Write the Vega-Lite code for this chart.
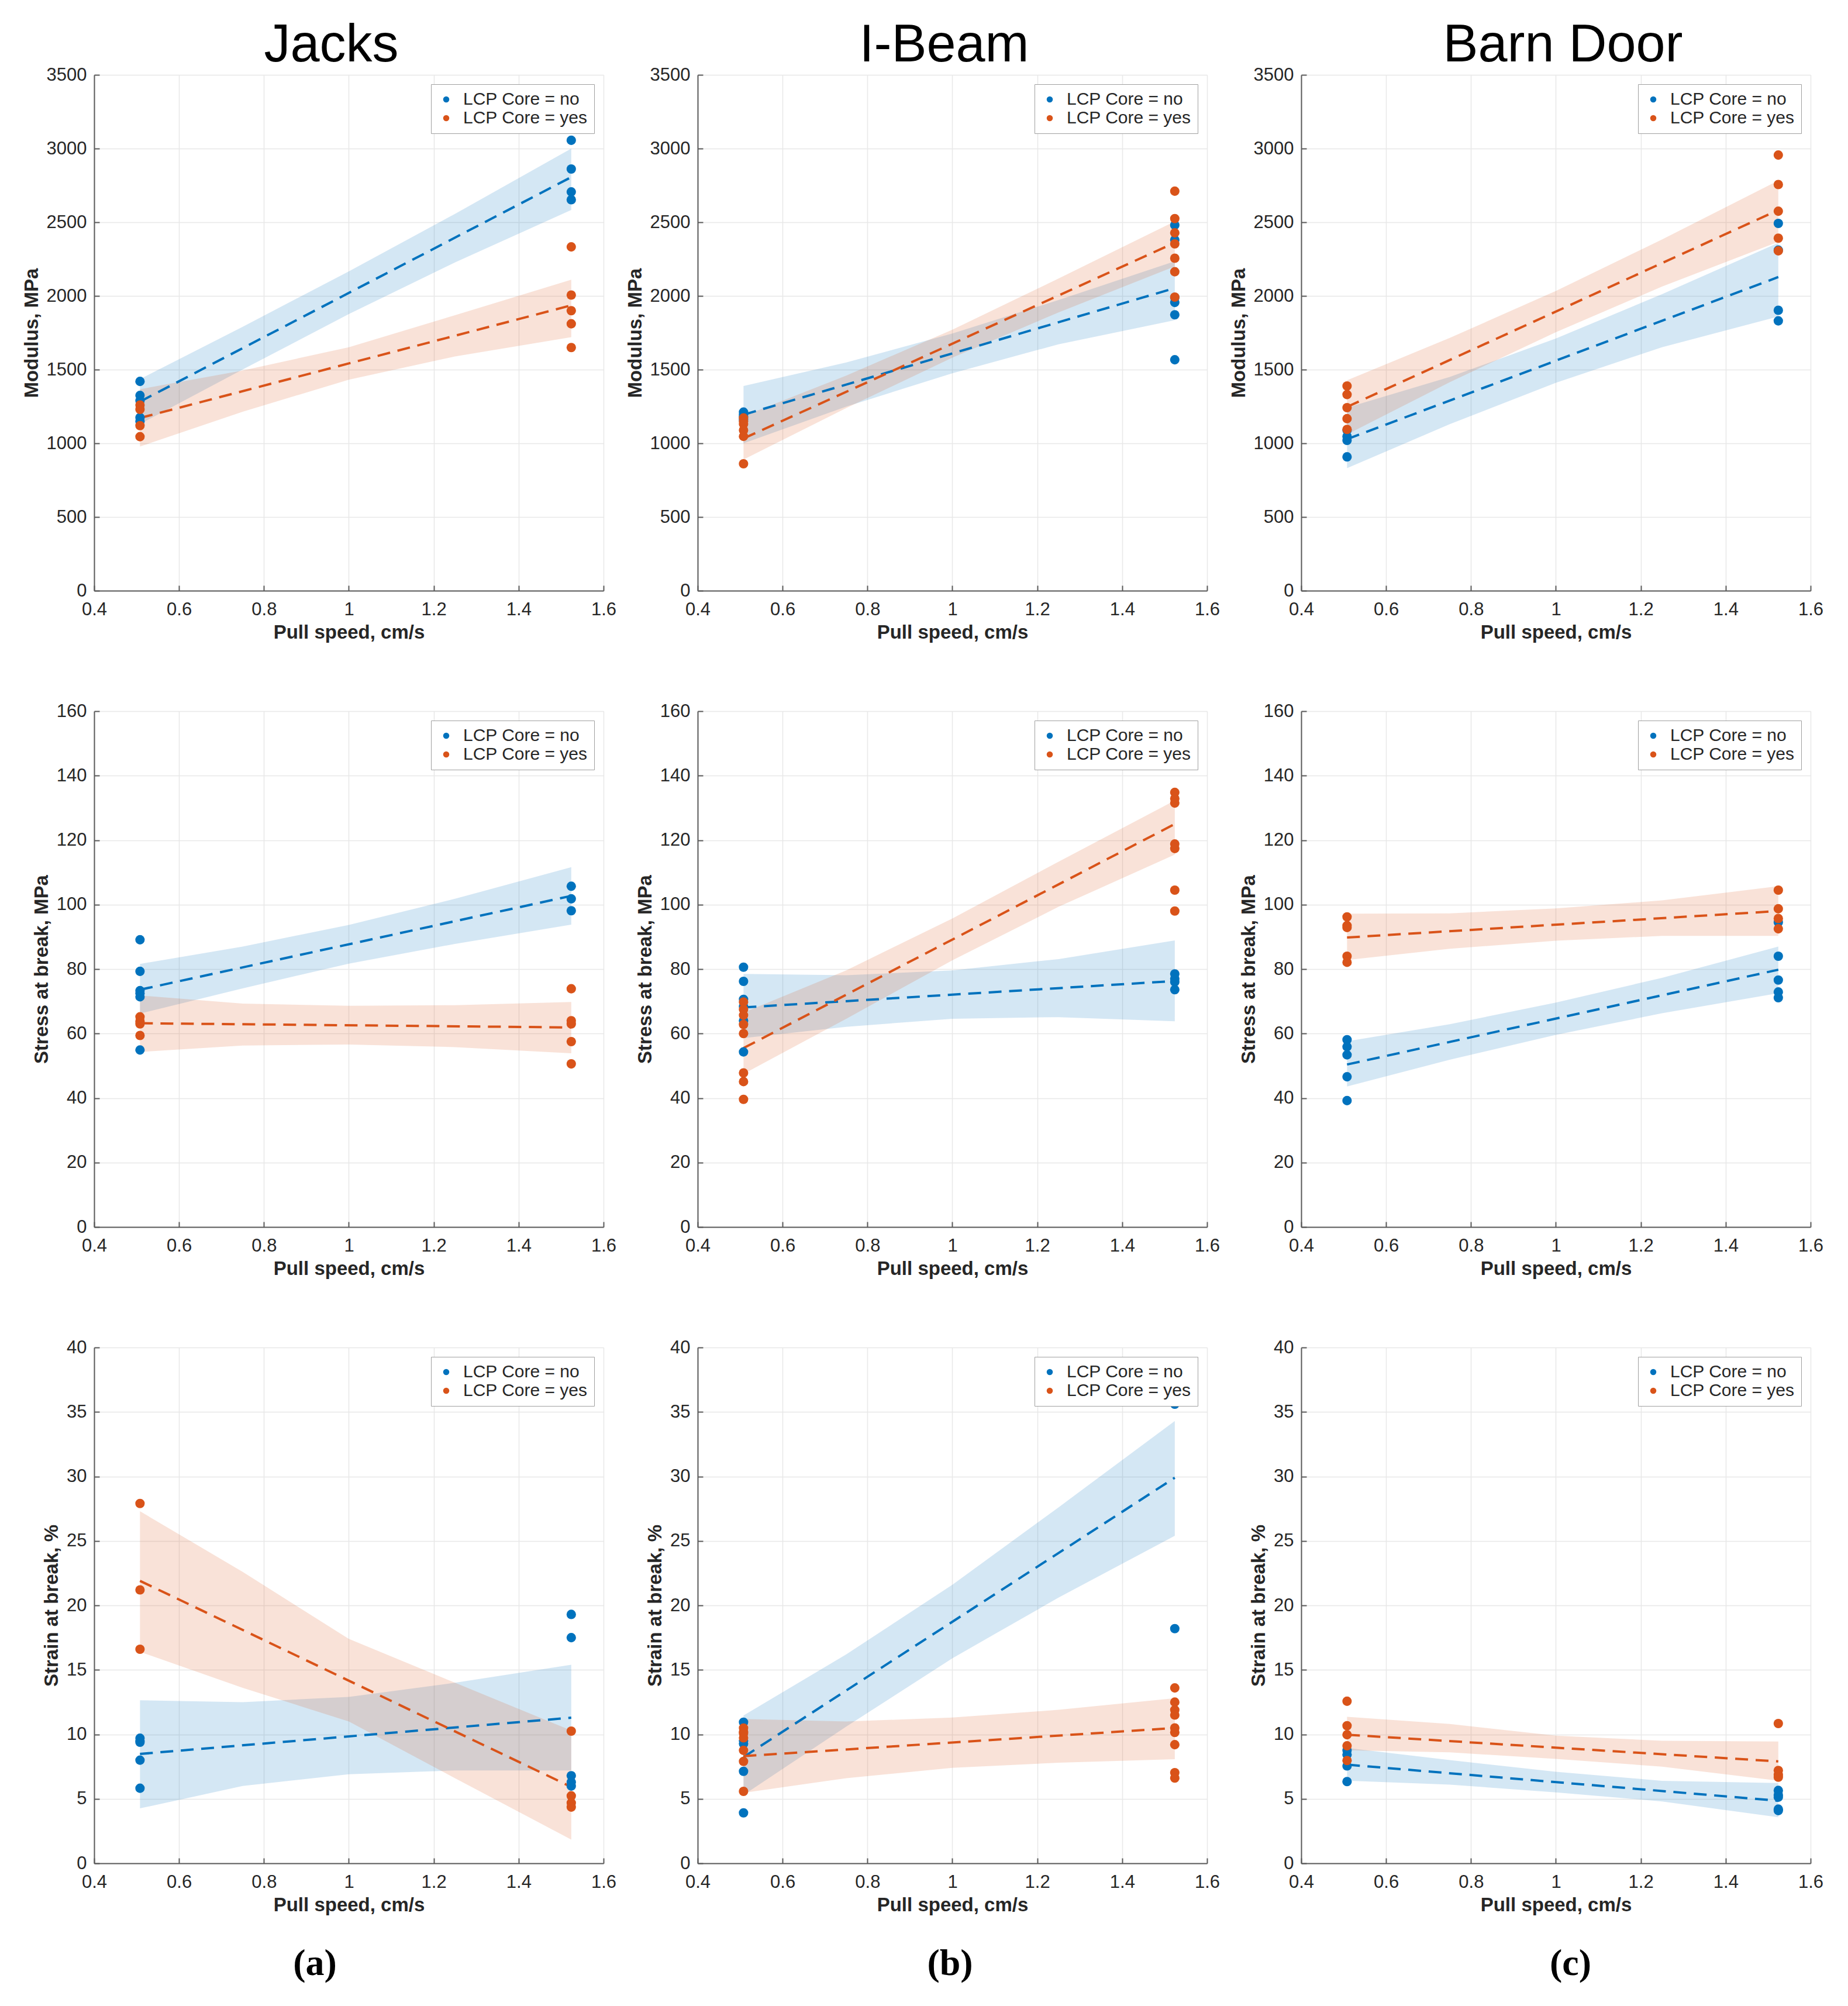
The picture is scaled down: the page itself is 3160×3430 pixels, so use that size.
{
"$schema": "https://vega.github.io/schema/vega-lite/v6.json",
"background": "white",
"padding": {"top": 33, "left": 38, "right": 5, "bottom": 5},
"datasets": {
"pts": [
{"p":"Jm","s":"no","x":0.508,"y":1420},{"p":"Jm","s":"no","x":0.508,"y":1325},{"p":"Jm","s":"no","x":0.508,"y":1290},{"p":"Jm","s":"no","x":0.508,"y":1175},{"p":"Jm","s":"no","x":0.508,"y":1150},
{"p":"Jm","s":"no","x":1.524,"y":3056},{"p":"Jm","s":"no","x":1.524,"y":2861},{"p":"Jm","s":"no","x":1.524,"y":2706},{"p":"Jm","s":"no","x":1.524,"y":2653},
{"p":"Jm","s":"yes","x":0.508,"y":1260},{"p":"Jm","s":"yes","x":0.508,"y":1230},{"p":"Jm","s":"yes","x":0.508,"y":1120},{"p":"Jm","s":"yes","x":0.508,"y":1045},
{"p":"Jm","s":"yes","x":1.524,"y":2333},{"p":"Jm","s":"yes","x":1.524,"y":2006},{"p":"Jm","s":"yes","x":1.524,"y":1900},{"p":"Jm","s":"yes","x":1.524,"y":1811},{"p":"Jm","s":"yes","x":1.524,"y":1650},
{"p":"Bm","s":"no","x":0.508,"y":1212},{"p":"Bm","s":"no","x":0.508,"y":1195},{"p":"Bm","s":"no","x":0.508,"y":1180},{"p":"Bm","s":"no","x":0.508,"y":1160},
{"p":"Bm","s":"no","x":1.524,"y":2480},{"p":"Bm","s":"no","x":1.524,"y":2380},{"p":"Bm","s":"no","x":1.524,"y":1990},{"p":"Bm","s":"no","x":1.524,"y":1956},{"p":"Bm","s":"no","x":1.524,"y":1872},{"p":"Bm","s":"no","x":1.524,"y":1567},
{"p":"Bm","s":"yes","x":0.508,"y":1172},{"p":"Bm","s":"yes","x":0.508,"y":1150},{"p":"Bm","s":"yes","x":0.508,"y":1131},{"p":"Bm","s":"yes","x":0.508,"y":1089},{"p":"Bm","s":"yes","x":0.508,"y":1047},{"p":"Bm","s":"yes","x":0.508,"y":861},
{"p":"Bm","s":"yes","x":1.524,"y":2711},{"p":"Bm","s":"yes","x":1.524,"y":2525},{"p":"Bm","s":"yes","x":1.524,"y":2428},{"p":"Bm","s":"yes","x":1.524,"y":2353},{"p":"Bm","s":"yes","x":1.524,"y":2256},{"p":"Bm","s":"yes","x":1.524,"y":2164},{"p":"Bm","s":"yes","x":1.524,"y":1992},
{"p":"Dm","s":"no","x":0.508,"y":1089},{"p":"Dm","s":"no","x":0.508,"y":1047},{"p":"Dm","s":"no","x":0.508,"y":1020},{"p":"Dm","s":"no","x":0.508,"y":908},
{"p":"Dm","s":"no","x":1.524,"y":2492},{"p":"Dm","s":"no","x":1.524,"y":2311},{"p":"Dm","s":"no","x":1.524,"y":1903},{"p":"Dm","s":"no","x":1.524,"y":1831},
{"p":"Dm","s":"yes","x":0.508,"y":1389},{"p":"Dm","s":"yes","x":0.508,"y":1331},{"p":"Dm","s":"yes","x":0.508,"y":1242},{"p":"Dm","s":"yes","x":0.508,"y":1167},{"p":"Dm","s":"yes","x":0.508,"y":1094},
{"p":"Dm","s":"yes","x":1.524,"y":2956},{"p":"Dm","s":"yes","x":1.524,"y":2756},{"p":"Dm","s":"yes","x":1.524,"y":2575},{"p":"Dm","s":"yes","x":1.524,"y":2392},{"p":"Dm","s":"yes","x":1.524,"y":2306},
{"p":"Js","s":"no","x":0.508,"y":89.1},{"p":"Js","s":"no","x":0.508,"y":79.3},{"p":"Js","s":"no","x":0.508,"y":73.3},{"p":"Js","s":"no","x":0.508,"y":72.5},{"p":"Js","s":"no","x":0.508,"y":71.4},{"p":"Js","s":"no","x":0.508,"y":54.9},
{"p":"Js","s":"no","x":1.524,"y":105.7},{"p":"Js","s":"no","x":1.524,"y":101.8},{"p":"Js","s":"no","x":1.524,"y":98.1},
{"p":"Js","s":"yes","x":0.508,"y":65.2},{"p":"Js","s":"yes","x":0.508,"y":63.8},{"p":"Js","s":"yes","x":0.508,"y":63.0},{"p":"Js","s":"yes","x":0.508,"y":59.4},
{"p":"Js","s":"yes","x":1.524,"y":73.9},{"p":"Js","s":"yes","x":1.524,"y":64.0},{"p":"Js","s":"yes","x":1.524,"y":63.0},{"p":"Js","s":"yes","x":1.524,"y":57.5},{"p":"Js","s":"yes","x":1.524,"y":50.6},
{"p":"Bs","s":"no","x":0.508,"y":80.6},{"p":"Bs","s":"no","x":0.508,"y":76.2},{"p":"Bs","s":"no","x":0.508,"y":70.6},{"p":"Bs","s":"no","x":0.508,"y":68.4},{"p":"Bs","s":"no","x":0.508,"y":64.0},{"p":"Bs","s":"no","x":0.508,"y":54.3},
{"p":"Bs","s":"no","x":1.524,"y":78.5},{"p":"Bs","s":"no","x":1.524,"y":77.0},{"p":"Bs","s":"no","x":1.524,"y":76.0},{"p":"Bs","s":"no","x":1.524,"y":73.6},
{"p":"Bs","s":"yes","x":0.508,"y":69.8},{"p":"Bs","s":"yes","x":0.508,"y":67.5},{"p":"Bs","s":"yes","x":0.508,"y":65.7},{"p":"Bs","s":"yes","x":0.508,"y":62.8},{"p":"Bs","s":"yes","x":0.508,"y":60.0},{"p":"Bs","s":"yes","x":0.508,"y":47.8},{"p":"Bs","s":"yes","x":0.508,"y":45.1},{"p":"Bs","s":"yes","x":0.508,"y":39.6},
{"p":"Bs","s":"yes","x":1.524,"y":134.8},{"p":"Bs","s":"yes","x":1.524,"y":132.9},{"p":"Bs","s":"yes","x":1.524,"y":131.5},{"p":"Bs","s":"yes","x":1.524,"y":118.8},{"p":"Bs","s":"yes","x":1.524,"y":117.4},{"p":"Bs","s":"yes","x":1.524,"y":104.5},{"p":"Bs","s":"yes","x":1.524,"y":98.0},
{"p":"Ds","s":"no","x":0.508,"y":58.1},{"p":"Ds","s":"no","x":0.508,"y":55.9},{"p":"Ds","s":"no","x":0.508,"y":53.4},{"p":"Ds","s":"no","x":0.508,"y":46.6},{"p":"Ds","s":"no","x":0.508,"y":39.2},
{"p":"Ds","s":"no","x":1.524,"y":94.5},{"p":"Ds","s":"no","x":1.524,"y":84.0},{"p":"Ds","s":"no","x":1.524,"y":76.6},{"p":"Ds","s":"no","x":1.524,"y":72.9},{"p":"Ds","s":"no","x":1.524,"y":71.1},
{"p":"Ds","s":"yes","x":0.508,"y":96.2},{"p":"Ds","s":"yes","x":0.508,"y":93.5},{"p":"Ds","s":"yes","x":0.508,"y":92.9},{"p":"Ds","s":"yes","x":0.508,"y":84.0},{"p":"Ds","s":"yes","x":0.508,"y":82.1},
{"p":"Ds","s":"yes","x":1.524,"y":104.5},{"p":"Ds","s":"yes","x":1.524,"y":98.7},{"p":"Ds","s":"yes","x":1.524,"y":95.7},{"p":"Ds","s":"yes","x":1.524,"y":92.5},
{"p":"Je","s":"no","x":0.508,"y":9.7},{"p":"Je","s":"no","x":0.508,"y":9.5},{"p":"Je","s":"no","x":0.508,"y":9.39},{"p":"Je","s":"no","x":0.508,"y":8.0},{"p":"Je","s":"no","x":0.508,"y":5.82},
{"p":"Je","s":"no","x":1.524,"y":19.3},{"p":"Je","s":"no","x":1.524,"y":17.5},{"p":"Je","s":"no","x":1.524,"y":6.79},{"p":"Je","s":"no","x":1.524,"y":6.3},{"p":"Je","s":"no","x":1.524,"y":5.99},
{"p":"Je","s":"yes","x":0.508,"y":27.9},{"p":"Je","s":"yes","x":0.508,"y":21.2},{"p":"Je","s":"yes","x":0.508,"y":16.6},
{"p":"Je","s":"yes","x":1.524,"y":10.25},{"p":"Je","s":"yes","x":1.524,"y":5.23},{"p":"Je","s":"yes","x":1.524,"y":4.68},{"p":"Je","s":"yes","x":1.524,"y":4.36},
{"p":"Be","s":"no","x":0.508,"y":10.94},{"p":"Be","s":"no","x":0.508,"y":9.5},{"p":"Be","s":"no","x":0.508,"y":9.28},{"p":"Be","s":"no","x":0.508,"y":7.13},{"p":"Be","s":"no","x":0.508,"y":3.91},
{"p":"Be","s":"no","x":1.524,"y":37.5},{"p":"Be","s":"no","x":1.524,"y":35.6},{"p":"Be","s":"no","x":1.524,"y":18.2},
{"p":"Be","s":"yes","x":0.508,"y":10.49},{"p":"Be","s":"yes","x":0.508,"y":10.2},{"p":"Be","s":"yes","x":0.508,"y":10.08},{"p":"Be","s":"yes","x":0.508,"y":9.73},{"p":"Be","s":"yes","x":0.508,"y":8.76},{"p":"Be","s":"yes","x":0.508,"y":7.9},{"p":"Be","s":"yes","x":0.508,"y":5.58},
{"p":"Be","s":"yes","x":1.524,"y":13.6},{"p":"Be","s":"yes","x":1.524,"y":12.5},{"p":"Be","s":"yes","x":1.524,"y":11.9},{"p":"Be","s":"yes","x":1.524,"y":11.5},{"p":"Be","s":"yes","x":1.524,"y":10.5},{"p":"Be","s":"yes","x":1.524,"y":10.15},{"p":"Be","s":"yes","x":1.524,"y":9.2},{"p":"Be","s":"yes","x":1.524,"y":7.03},{"p":"Be","s":"yes","x":1.524,"y":6.61},
{"p":"De","s":"no","x":0.508,"y":8.76},{"p":"De","s":"no","x":0.508,"y":8.42},{"p":"De","s":"no","x":0.508,"y":7.55},{"p":"De","s":"no","x":0.508,"y":6.34},
{"p":"De","s":"no","x":1.524,"y":5.65},{"p":"De","s":"no","x":1.524,"y":5.3},{"p":"De","s":"no","x":1.524,"y":5.13},{"p":"De","s":"no","x":1.524,"y":4.2},{"p":"De","s":"no","x":1.524,"y":4.09},
{"p":"De","s":"yes","x":0.508,"y":12.57},{"p":"De","s":"yes","x":0.508,"y":10.67},{"p":"De","s":"yes","x":0.508,"y":9.97},{"p":"De","s":"yes","x":0.508,"y":9.11},{"p":"De","s":"yes","x":0.508,"y":7.97},
{"p":"De","s":"yes","x":1.524,"y":10.84},{"p":"De","s":"yes","x":1.524,"y":7.2},{"p":"De","s":"yes","x":1.524,"y":6.86},{"p":"De","s":"yes","x":1.524,"y":6.68}
],
"fit": [
{"p":"Jm","s":"no","x":0.508,"y":1283},{"p":"Jm","s":"no","x":1.524,"y":2806},{"p":"Jm","s":"yes","x":0.508,"y":1172},{"p":"Jm","s":"yes","x":1.524,"y":1936},
{"p":"Bm","s":"no","x":0.508,"y":1194},{"p":"Bm","s":"no","x":1.524,"y":2053},{"p":"Bm","s":"yes","x":0.508,"y":1033},{"p":"Bm","s":"yes","x":1.524,"y":2361},
{"p":"Dm","s":"no","x":0.508,"y":1028},{"p":"Dm","s":"no","x":1.524,"y":2128},{"p":"Dm","s":"yes","x":0.508,"y":1247},{"p":"Dm","s":"yes","x":1.524,"y":2583},
{"p":"Js","s":"no","x":0.508,"y":73.6},{"p":"Js","s":"no","x":1.524,"y":102.7},{"p":"Js","s":"yes","x":0.508,"y":63.2},{"p":"Js","s":"yes","x":1.524,"y":61.9},
{"p":"Bs","s":"no","x":0.508,"y":68.1},{"p":"Bs","s":"no","x":1.524,"y":76.3},{"p":"Bs","s":"yes","x":0.508,"y":55.5},{"p":"Bs","s":"yes","x":1.524,"y":125.0},
{"p":"Ds","s":"no","x":0.508,"y":50.4},{"p":"Ds","s":"no","x":1.524,"y":79.8},{"p":"Ds","s":"yes","x":0.508,"y":89.8},{"p":"Ds","s":"yes","x":1.524,"y":98.0},
{"p":"Je","s":"no","x":0.508,"y":8.48},{"p":"Je","s":"no","x":1.524,"y":11.29},{"p":"Je","s":"yes","x":0.508,"y":21.9},{"p":"Je","s":"yes","x":1.524,"y":5.92},
{"p":"Be","s":"no","x":0.508,"y":8.24},{"p":"Be","s":"no","x":1.524,"y":29.9},{"p":"Be","s":"yes","x":0.508,"y":8.31},{"p":"Be","s":"yes","x":1.524,"y":10.49},
{"p":"De","s":"no","x":0.508,"y":7.65},{"p":"De","s":"no","x":1.524,"y":4.85},{"p":"De","s":"yes","x":0.508,"y":9.97},{"p":"De","s":"yes","x":1.524,"y":7.9}
],
"band": [
{"p":"Jm","s":"no","x":0.508,"lo":1131,"hi":1436},{"p":"Jm","s":"no","x":0.75,"lo":1501,"hi":1791},{"p":"Jm","s":"no","x":1.0,"lo":1877,"hi":2167},{"p":"Jm","s":"no","x":1.25,"lo":2227,"hi":2557},{"p":"Jm","s":"no","x":1.524,"lo":2583,"hi":3000},
{"p":"Jm","s":"yes","x":0.508,"lo":978,"hi":1367},{"p":"Jm","s":"yes","x":0.75,"lo":1214,"hi":1494},{"p":"Jm","s":"yes","x":1.0,"lo":1432,"hi":1652},{"p":"Jm","s":"yes","x":1.25,"lo":1589,"hi":1869},{"p":"Jm","s":"yes","x":1.524,"lo":1720,"hi":2110},
{"p":"Bm","s":"no","x":0.508,"lo":1000,"hi":1389},{"p":"Bm","s":"no","x":0.75,"lo":1249,"hi":1549},{"p":"Bm","s":"no","x":1.0,"lo":1475,"hi":1745},{"p":"Bm","s":"no","x":1.25,"lo":1672,"hi":1972},{"p":"Bm","s":"no","x":1.524,"lo":1835,"hi":2235},
{"p":"Bm","s":"yes","x":0.508,"lo":890,"hi":1185},{"p":"Bm","s":"yes","x":0.75,"lo":1239,"hi":1459},{"p":"Bm","s":"yes","x":1.0,"lo":1581,"hi":1771},{"p":"Bm","s":"yes","x":1.25,"lo":1888,"hi":2118},{"p":"Bm","s":"yes","x":1.524,"lo":2200,"hi":2506},
{"p":"Dm","s":"no","x":0.508,"lo":831,"hi":1242},{"p":"Dm","s":"no","x":0.75,"lo":1130,"hi":1450},{"p":"Dm","s":"no","x":1.0,"lo":1411,"hi":1711},{"p":"Dm","s":"no","x":1.25,"lo":1652,"hi":2012},{"p":"Dm","s":"no","x":1.524,"lo":1860,"hi":2360},
{"p":"Dm","s":"yes","x":0.508,"lo":1061,"hi":1428},{"p":"Dm","s":"yes","x":0.75,"lo":1415,"hi":1715},{"p":"Dm","s":"yes","x":1.0,"lo":1754,"hi":2034},{"p":"Dm","s":"yes","x":1.25,"lo":2063,"hi":2383},{"p":"Dm","s":"yes","x":1.524,"lo":2367,"hi":2783},
{"p":"Js","s":"no","x":0.508,"lo":66.2,"hi":81.6},{"p":"Js","s":"no","x":0.75,"lo":74.0,"hi":87.0},{"p":"Js","s":"no","x":1.0,"lo":81.7,"hi":93.7},{"p":"Js","s":"no","x":1.25,"lo":87.8,"hi":101.8},{"p":"Js","s":"no","x":1.524,"lo":93.8,"hi":111.6},
{"p":"Js","s":"yes","x":0.508,"lo":54.3,"hi":71.8},{"p":"Js","s":"yes","x":0.75,"lo":56.3,"hi":69.3},{"p":"Js","s":"yes","x":1.0,"lo":56.6,"hi":68.6},{"p":"Js","s":"yes","x":1.25,"lo":55.8,"hi":68.8},{"p":"Js","s":"yes","x":1.524,"lo":53.9,"hi":69.8},
{"p":"Bs","s":"no","x":0.508,"lo":58.6,"hi":78.5},{"p":"Bs","s":"no","x":0.75,"lo":62.1,"hi":78.1},{"p":"Bs","s":"no","x":1.0,"lo":64.6,"hi":79.6},{"p":"Bs","s":"no","x":1.25,"lo":65.1,"hi":83.1},{"p":"Bs","s":"no","x":1.524,"lo":63.8,"hi":88.9},
{"p":"Bs","s":"yes","x":0.508,"lo":47.5,"hi":66.5},{"p":"Bs","s":"yes","x":0.75,"lo":64.6,"hi":79.6},{"p":"Bs","s":"yes","x":1.0,"lo":82.7,"hi":95.7},{"p":"Bs","s":"yes","x":1.25,"lo":99.3,"hi":113.3},{"p":"Bs","s":"yes","x":1.524,"lo":115.5,"hi":132.3},
{"p":"Ds","s":"no","x":0.508,"lo":43.6,"hi":57.6},{"p":"Ds","s":"no","x":0.75,"lo":51.9,"hi":62.9},{"p":"Ds","s":"no","x":1.0,"lo":59.6,"hi":69.6},{"p":"Ds","s":"no","x":1.25,"lo":66.3,"hi":77.3},{"p":"Ds","s":"no","x":1.524,"lo":72.5,"hi":87.0},
{"p":"Ds","s":"yes","x":0.508,"lo":82.8,"hi":97.2},{"p":"Ds","s":"yes","x":0.75,"lo":86.3,"hi":97.3},{"p":"Ds","s":"yes","x":1.0,"lo":88.8,"hi":98.8},{"p":"Ds","s":"yes","x":1.25,"lo":90.3,"hi":101.3},{"p":"Ds","s":"yes","x":1.524,"lo":90.3,"hi":105.7},
{"p":"Je","s":"no","x":0.508,"lo":4.26,"hi":12.64},{"p":"Je","s":"no","x":0.75,"lo":6.0,"hi":12.5},{"p":"Je","s":"no","x":1.0,"lo":6.9,"hi":12.9},{"p":"Je","s":"no","x":1.25,"lo":7.2,"hi":14.0},{"p":"Je","s":"no","x":1.524,"lo":7.2,"hi":15.4},
{"p":"Je","s":"yes","x":0.508,"lo":16.4,"hi":27.3},{"p":"Je","s":"yes","x":0.75,"lo":13.6,"hi":22.6},{"p":"Je","s":"yes","x":1.0,"lo":11.0,"hi":17.4},{"p":"Je","s":"yes","x":1.25,"lo":6.6,"hi":14.0},{"p":"Je","s":"yes","x":1.524,"lo":1.84,"hi":10.3},
{"p":"Be","s":"no","x":0.508,"lo":5.3,"hi":11.46},{"p":"Be","s":"no","x":0.75,"lo":10.6,"hi":16.2},{"p":"Be","s":"no","x":1.0,"lo":15.9,"hi":21.6},{"p":"Be","s":"no","x":1.25,"lo":20.6,"hi":27.6},{"p":"Be","s":"no","x":1.524,"lo":25.4,"hi":34.3},
{"p":"Be","s":"yes","x":0.508,"lo":5.47,"hi":11.19},{"p":"Be","s":"yes","x":0.75,"lo":6.6,"hi":11.0},{"p":"Be","s":"yes","x":1.0,"lo":7.4,"hi":11.3},{"p":"Be","s":"yes","x":1.25,"lo":7.8,"hi":11.9},{"p":"Be","s":"yes","x":1.524,"lo":8.07,"hi":12.8},
{"p":"De","s":"no","x":0.508,"lo":6.41,"hi":8.94},{"p":"De","s":"no","x":0.75,"lo":6.1,"hi":8.0},{"p":"De","s":"no","x":1.0,"lo":5.5,"hi":7.1},{"p":"De","s":"no","x":1.25,"lo":4.8,"hi":6.4},{"p":"De","s":"no","x":1.524,"lo":3.57,"hi":6.23},
{"p":"De","s":"yes","x":0.508,"lo":8.76,"hi":11.36},{"p":"De","s":"yes","x":0.75,"lo":8.6,"hi":10.8},{"p":"De","s":"yes","x":1.0,"lo":8.1,"hi":9.9},{"p":"De","s":"yes","x":1.25,"lo":7.5,"hi":9.5},{"p":"De","s":"yes","x":1.524,"lo":6.41,"hi":9.45}
]
},
"columns": 3,
"spacing": {"row": 206, "column": 161},
"bounds": "flush",
"resolve": {"legend": {"color": "independent"}},
"concat": [
{"width": 871, "height": 882, "title": {"text": "Jacks", "dx": -30},
 "layer": [
  {"data": {"name": "band"}, "transform": [{"filter": "datum.p == 'Jm'"}], "mark": {"type": "area", "fillOpacity": 0.17}, "encoding": {"x": {"field": "x", "type": "quantitative", "scale": {"domain": [0.4, 1.6], "nice": false}, "axis": {"title": "Pull speed, cm/s", "values": [0.4, 0.6, 0.8, 1, 1.2, 1.4, 1.6], "format": "~g"}}, "y": {"field": "lo", "type": "quantitative", "scale": {"domain": [0, 3500], "nice": false}, "axis": {"title": "Modulus, MPa", "values": [0, 500, 1000, 1500, 2000, 2500, 3000, 3500], "format": "d"}}, "y2": {"field": "hi"}, "fill": {"field": "s", "type": "nominal", "scale": {"domain": ["no", "yes"], "range": ["#0072BD", "#D95319"]}, "legend": null}}},
  {"data": {"name": "fit"}, "transform": [{"filter": "datum.p == 'Jm'"}], "mark": {"type": "line", "strokeDash": [22, 13], "strokeWidth": 4}, "encoding": {"x": {"field": "x", "type": "quantitative"}, "y": {"field": "y", "type": "quantitative"}, "stroke": {"field": "s", "type": "nominal", "scale": {"domain": ["no", "yes"], "range": ["#0072BD", "#D95319"]}, "legend": null}}},
  {"data": {"name": "pts"}, "transform": [{"filter": "datum.p == 'Jm'"}], "mark": {"type": "point", "filled": true, "size": 260, "opacity": 1}, "encoding": {"x": {"field": "x", "type": "quantitative"}, "y": {"field": "y", "type": "quantitative"}, "color": {"field": "s", "type": "nominal", "scale": {"domain": ["no", "yes"], "range": ["#0072BD", "#D95319"]}, "legend": {"title": null, "labelExpr": "'LCP Core = ' + datum.label"}}}}
 ]},
{"width": 871, "height": 882, "title": {"text": "I-Beam", "dx": -14},
 "layer": [
  {"data": {"name": "band"}, "transform": [{"filter": "datum.p == 'Bm'"}], "mark": {"type": "area", "fillOpacity": 0.17}, "encoding": {"x": {"field": "x", "type": "quantitative", "scale": {"domain": [0.4, 1.6], "nice": false}, "axis": {"title": "Pull speed, cm/s", "values": [0.4, 0.6, 0.8, 1, 1.2, 1.4, 1.6], "format": "~g"}}, "y": {"field": "lo", "type": "quantitative", "scale": {"domain": [0, 3500], "nice": false}, "axis": {"title": "Modulus, MPa", "values": [0, 500, 1000, 1500, 2000, 2500, 3000, 3500], "format": "d"}}, "y2": {"field": "hi"}, "fill": {"field": "s", "type": "nominal", "scale": {"domain": ["no", "yes"], "range": ["#0072BD", "#D95319"]}, "legend": null}}},
  {"data": {"name": "fit"}, "transform": [{"filter": "datum.p == 'Bm'"}], "mark": {"type": "line", "strokeDash": [22, 13], "strokeWidth": 4}, "encoding": {"x": {"field": "x", "type": "quantitative"}, "y": {"field": "y", "type": "quantitative"}, "stroke": {"field": "s", "type": "nominal", "scale": {"domain": ["no", "yes"], "range": ["#0072BD", "#D95319"]}, "legend": null}}},
  {"data": {"name": "pts"}, "transform": [{"filter": "datum.p == 'Bm'"}], "mark": {"type": "point", "filled": true, "size": 260, "opacity": 1}, "encoding": {"x": {"field": "x", "type": "quantitative"}, "y": {"field": "y", "type": "quantitative"}, "color": {"field": "s", "type": "nominal", "scale": {"domain": ["no", "yes"], "range": ["#0072BD", "#D95319"]}, "legend": {"title": null, "labelExpr": "'LCP Core = ' + datum.label"}}}}
 ]},
{"width": 871, "height": 882, "title": {"text": "Barn Door", "dx": 12},
 "layer": [
  {"data": {"name": "band"}, "transform": [{"filter": "datum.p == 'Dm'"}], "mark": {"type": "area", "fillOpacity": 0.17}, "encoding": {"x": {"field": "x", "type": "quantitative", "scale": {"domain": [0.4, 1.6], "nice": false}, "axis": {"title": "Pull speed, cm/s", "values": [0.4, 0.6, 0.8, 1, 1.2, 1.4, 1.6], "format": "~g"}}, "y": {"field": "lo", "type": "quantitative", "scale": {"domain": [0, 3500], "nice": false}, "axis": {"title": "Modulus, MPa", "values": [0, 500, 1000, 1500, 2000, 2500, 3000, 3500], "format": "d"}}, "y2": {"field": "hi"}, "fill": {"field": "s", "type": "nominal", "scale": {"domain": ["no", "yes"], "range": ["#0072BD", "#D95319"]}, "legend": null}}},
  {"data": {"name": "fit"}, "transform": [{"filter": "datum.p == 'Dm'"}], "mark": {"type": "line", "strokeDash": [22, 13], "strokeWidth": 4}, "encoding": {"x": {"field": "x", "type": "quantitative"}, "y": {"field": "y", "type": "quantitative"}, "stroke": {"field": "s", "type": "nominal", "scale": {"domain": ["no", "yes"], "range": ["#0072BD", "#D95319"]}, "legend": null}}},
  {"data": {"name": "pts"}, "transform": [{"filter": "datum.p == 'Dm'"}], "mark": {"type": "point", "filled": true, "size": 260, "opacity": 1}, "encoding": {"x": {"field": "x", "type": "quantitative"}, "y": {"field": "y", "type": "quantitative"}, "color": {"field": "s", "type": "nominal", "scale": {"domain": ["no", "yes"], "range": ["#0072BD", "#D95319"]}, "legend": {"title": null, "labelExpr": "'LCP Core = ' + datum.label"}}}}
 ]},
{"width": 871, "height": 882,
 "layer": [
  {"data": {"name": "band"}, "transform": [{"filter": "datum.p == 'Js'"}], "mark": {"type": "area", "fillOpacity": 0.17}, "encoding": {"x": {"field": "x", "type": "quantitative", "scale": {"domain": [0.4, 1.6], "nice": false}, "axis": {"title": "Pull speed, cm/s", "values": [0.4, 0.6, 0.8, 1, 1.2, 1.4, 1.6], "format": "~g"}}, "y": {"field": "lo", "type": "quantitative", "scale": {"domain": [0, 160], "nice": false}, "axis": {"title": "Stress at break, MPa", "values": [0, 20, 40, 60, 80, 100, 120, 140, 160], "format": "d"}}, "y2": {"field": "hi"}, "fill": {"field": "s", "type": "nominal", "scale": {"domain": ["no", "yes"], "range": ["#0072BD", "#D95319"]}, "legend": null}}},
  {"data": {"name": "fit"}, "transform": [{"filter": "datum.p == 'Js'"}], "mark": {"type": "line", "strokeDash": [22, 13], "strokeWidth": 4}, "encoding": {"x": {"field": "x", "type": "quantitative"}, "y": {"field": "y", "type": "quantitative"}, "stroke": {"field": "s", "type": "nominal", "scale": {"domain": ["no", "yes"], "range": ["#0072BD", "#D95319"]}, "legend": null}}},
  {"data": {"name": "pts"}, "transform": [{"filter": "datum.p == 'Js'"}], "mark": {"type": "point", "filled": true, "size": 260, "opacity": 1}, "encoding": {"x": {"field": "x", "type": "quantitative"}, "y": {"field": "y", "type": "quantitative"}, "color": {"field": "s", "type": "nominal", "scale": {"domain": ["no", "yes"], "range": ["#0072BD", "#D95319"]}, "legend": {"title": null, "labelExpr": "'LCP Core = ' + datum.label"}}}}
 ]},
{"width": 871, "height": 882,
 "layer": [
  {"data": {"name": "band"}, "transform": [{"filter": "datum.p == 'Bs'"}], "mark": {"type": "area", "fillOpacity": 0.17}, "encoding": {"x": {"field": "x", "type": "quantitative", "scale": {"domain": [0.4, 1.6], "nice": false}, "axis": {"title": "Pull speed, cm/s", "values": [0.4, 0.6, 0.8, 1, 1.2, 1.4, 1.6], "format": "~g"}}, "y": {"field": "lo", "type": "quantitative", "scale": {"domain": [0, 160], "nice": false}, "axis": {"title": "Stress at break, MPa", "values": [0, 20, 40, 60, 80, 100, 120, 140, 160], "format": "d"}}, "y2": {"field": "hi"}, "fill": {"field": "s", "type": "nominal", "scale": {"domain": ["no", "yes"], "range": ["#0072BD", "#D95319"]}, "legend": null}}},
  {"data": {"name": "fit"}, "transform": [{"filter": "datum.p == 'Bs'"}], "mark": {"type": "line", "strokeDash": [22, 13], "strokeWidth": 4}, "encoding": {"x": {"field": "x", "type": "quantitative"}, "y": {"field": "y", "type": "quantitative"}, "stroke": {"field": "s", "type": "nominal", "scale": {"domain": ["no", "yes"], "range": ["#0072BD", "#D95319"]}, "legend": null}}},
  {"data": {"name": "pts"}, "transform": [{"filter": "datum.p == 'Bs'"}], "mark": {"type": "point", "filled": true, "size": 260, "opacity": 1}, "encoding": {"x": {"field": "x", "type": "quantitative"}, "y": {"field": "y", "type": "quantitative"}, "color": {"field": "s", "type": "nominal", "scale": {"domain": ["no", "yes"], "range": ["#0072BD", "#D95319"]}, "legend": {"title": null, "labelExpr": "'LCP Core = ' + datum.label"}}}}
 ]},
{"width": 871, "height": 882,
 "layer": [
  {"data": {"name": "band"}, "transform": [{"filter": "datum.p == 'Ds'"}], "mark": {"type": "area", "fillOpacity": 0.17}, "encoding": {"x": {"field": "x", "type": "quantitative", "scale": {"domain": [0.4, 1.6], "nice": false}, "axis": {"title": "Pull speed, cm/s", "values": [0.4, 0.6, 0.8, 1, 1.2, 1.4, 1.6], "format": "~g"}}, "y": {"field": "lo", "type": "quantitative", "scale": {"domain": [0, 160], "nice": false}, "axis": {"title": "Stress at break, MPa", "values": [0, 20, 40, 60, 80, 100, 120, 140, 160], "format": "d"}}, "y2": {"field": "hi"}, "fill": {"field": "s", "type": "nominal", "scale": {"domain": ["no", "yes"], "range": ["#0072BD", "#D95319"]}, "legend": null}}},
  {"data": {"name": "fit"}, "transform": [{"filter": "datum.p == 'Ds'"}], "mark": {"type": "line", "strokeDash": [22, 13], "strokeWidth": 4}, "encoding": {"x": {"field": "x", "type": "quantitative"}, "y": {"field": "y", "type": "quantitative"}, "stroke": {"field": "s", "type": "nominal", "scale": {"domain": ["no", "yes"], "range": ["#0072BD", "#D95319"]}, "legend": null}}},
  {"data": {"name": "pts"}, "transform": [{"filter": "datum.p == 'Ds'"}], "mark": {"type": "point", "filled": true, "size": 260, "opacity": 1}, "encoding": {"x": {"field": "x", "type": "quantitative"}, "y": {"field": "y", "type": "quantitative"}, "color": {"field": "s", "type": "nominal", "scale": {"domain": ["no", "yes"], "range": ["#0072BD", "#D95319"]}, "legend": {"title": null, "labelExpr": "'LCP Core = ' + datum.label"}}}}
 ]},
{"width": 871, "height": 882, "title": {"text": "(a)", "orient": "bottom", "font": "Liberation Serif", "fontSize": 64, "fontWeight": "bold", "offset": 52, "dx": -58},
 "layer": [
  {"data": {"name": "band"}, "transform": [{"filter": "datum.p == 'Je'"}], "mark": {"type": "area", "fillOpacity": 0.17}, "encoding": {"x": {"field": "x", "type": "quantitative", "scale": {"domain": [0.4, 1.6], "nice": false}, "axis": {"title": "Pull speed, cm/s", "values": [0.4, 0.6, 0.8, 1, 1.2, 1.4, 1.6], "format": "~g"}}, "y": {"field": "lo", "type": "quantitative", "scale": {"domain": [0, 40], "nice": false}, "axis": {"title": "Strain at break, %", "values": [0, 5, 10, 15, 20, 25, 30, 35, 40], "format": "d"}}, "y2": {"field": "hi"}, "fill": {"field": "s", "type": "nominal", "scale": {"domain": ["no", "yes"], "range": ["#0072BD", "#D95319"]}, "legend": null}}},
  {"data": {"name": "fit"}, "transform": [{"filter": "datum.p == 'Je'"}], "mark": {"type": "line", "strokeDash": [22, 13], "strokeWidth": 4}, "encoding": {"x": {"field": "x", "type": "quantitative"}, "y": {"field": "y", "type": "quantitative"}, "stroke": {"field": "s", "type": "nominal", "scale": {"domain": ["no", "yes"], "range": ["#0072BD", "#D95319"]}, "legend": null}}},
  {"data": {"name": "pts"}, "transform": [{"filter": "datum.p == 'Je'"}], "mark": {"type": "point", "filled": true, "size": 260, "opacity": 1}, "encoding": {"x": {"field": "x", "type": "quantitative"}, "y": {"field": "y", "type": "quantitative"}, "color": {"field": "s", "type": "nominal", "scale": {"domain": ["no", "yes"], "range": ["#0072BD", "#D95319"]}, "legend": {"title": null, "labelExpr": "'LCP Core = ' + datum.label"}}}}
 ]},
{"width": 871, "height": 882, "title": {"text": "(b)", "orient": "bottom", "font": "Liberation Serif", "fontSize": 64, "fontWeight": "bold", "offset": 52, "dx": -4},
 "layer": [
  {"data": {"name": "band"}, "transform": [{"filter": "datum.p == 'Be'"}], "mark": {"type": "area", "fillOpacity": 0.17}, "encoding": {"x": {"field": "x", "type": "quantitative", "scale": {"domain": [0.4, 1.6], "nice": false}, "axis": {"title": "Pull speed, cm/s", "values": [0.4, 0.6, 0.8, 1, 1.2, 1.4, 1.6], "format": "~g"}}, "y": {"field": "lo", "type": "quantitative", "scale": {"domain": [0, 40], "nice": false}, "axis": {"title": "Strain at break, %", "values": [0, 5, 10, 15, 20, 25, 30, 35, 40], "format": "d"}}, "y2": {"field": "hi"}, "fill": {"field": "s", "type": "nominal", "scale": {"domain": ["no", "yes"], "range": ["#0072BD", "#D95319"]}, "legend": null}}},
  {"data": {"name": "fit"}, "transform": [{"filter": "datum.p == 'Be'"}], "mark": {"type": "line", "strokeDash": [22, 13], "strokeWidth": 4}, "encoding": {"x": {"field": "x", "type": "quantitative"}, "y": {"field": "y", "type": "quantitative"}, "stroke": {"field": "s", "type": "nominal", "scale": {"domain": ["no", "yes"], "range": ["#0072BD", "#D95319"]}, "legend": null}}},
  {"data": {"name": "pts"}, "transform": [{"filter": "datum.p == 'Be'"}], "mark": {"type": "point", "filled": true, "size": 260, "opacity": 1}, "encoding": {"x": {"field": "x", "type": "quantitative"}, "y": {"field": "y", "type": "quantitative"}, "color": {"field": "s", "type": "nominal", "scale": {"domain": ["no", "yes"], "range": ["#0072BD", "#D95319"]}, "legend": {"title": null, "labelExpr": "'LCP Core = ' + datum.label"}}}}
 ]},
{"width": 871, "height": 882, "title": {"text": "(c)", "orient": "bottom", "font": "Liberation Serif", "fontSize": 64, "fontWeight": "bold", "offset": 52, "dx": 25},
 "layer": [
  {"data": {"name": "band"}, "transform": [{"filter": "datum.p == 'De'"}], "mark": {"type": "area", "fillOpacity": 0.17}, "encoding": {"x": {"field": "x", "type": "quantitative", "scale": {"domain": [0.4, 1.6], "nice": false}, "axis": {"title": "Pull speed, cm/s", "values": [0.4, 0.6, 0.8, 1, 1.2, 1.4, 1.6], "format": "~g"}}, "y": {"field": "lo", "type": "quantitative", "scale": {"domain": [0, 40], "nice": false}, "axis": {"title": "Strain at break, %", "values": [0, 5, 10, 15, 20, 25, 30, 35, 40], "format": "d"}}, "y2": {"field": "hi"}, "fill": {"field": "s", "type": "nominal", "scale": {"domain": ["no", "yes"], "range": ["#0072BD", "#D95319"]}, "legend": null}}},
  {"data": {"name": "fit"}, "transform": [{"filter": "datum.p == 'De'"}], "mark": {"type": "line", "strokeDash": [22, 13], "strokeWidth": 4}, "encoding": {"x": {"field": "x", "type": "quantitative"}, "y": {"field": "y", "type": "quantitative"}, "stroke": {"field": "s", "type": "nominal", "scale": {"domain": ["no", "yes"], "range": ["#0072BD", "#D95319"]}, "legend": null}}},
  {"data": {"name": "pts"}, "transform": [{"filter": "datum.p == 'De'"}], "mark": {"type": "point", "filled": true, "size": 260, "opacity": 1}, "encoding": {"x": {"field": "x", "type": "quantitative"}, "y": {"field": "y", "type": "quantitative"}, "color": {"field": "s", "type": "nominal", "scale": {"domain": ["no", "yes"], "range": ["#0072BD", "#D95319"]}, "legend": {"title": null, "labelExpr": "'LCP Core = ' + datum.label"}}}}
 ]}
],
"config": {
 "view": {"stroke": null},
 "font": "Liberation Sans",
 "axis": {"domainColor": "#5a5a5a", "domainWidth": 2, "gridColor": "#e8e8e8", "gridWidth": 1.5, "tickColor": "#5a5a5a", "tickWidth": 2, "tickSize": -9, "labelFont": "Liberation Sans", "labelFontSize": 31, "labelColor": "#262626", "titleFont": "Liberation Sans", "titleFontSize": 33, "titleFontWeight": "bold", "titleColor": "#262626", "labelFlush": false, "labelOverlap": false},
 "axisX": {"labelPadding": 26, "titlePadding": 8},
 "axisY": {"labelPadding": 22, "titlePadding": 8},
 "legend": {"orient": "top-right", "offset": 16, "labelFont": "Liberation Sans", "labelFontSize": 30, "labelColor": "#262626", "labelLimit": 500, "symbolSize": 110, "symbolType": "circle", "strokeColor": "#a0a0a0", "fillColor": "white", "padding": 11, "rowPadding": 2, "labelOffset": 14, "symbolStrokeWidth": 0},
 "title": {"font": "Liberation Sans", "fontSize": 90, "fontWeight": "normal", "color": "black", "anchor": "middle", "frame": "group", "offset": -12}
}
}
